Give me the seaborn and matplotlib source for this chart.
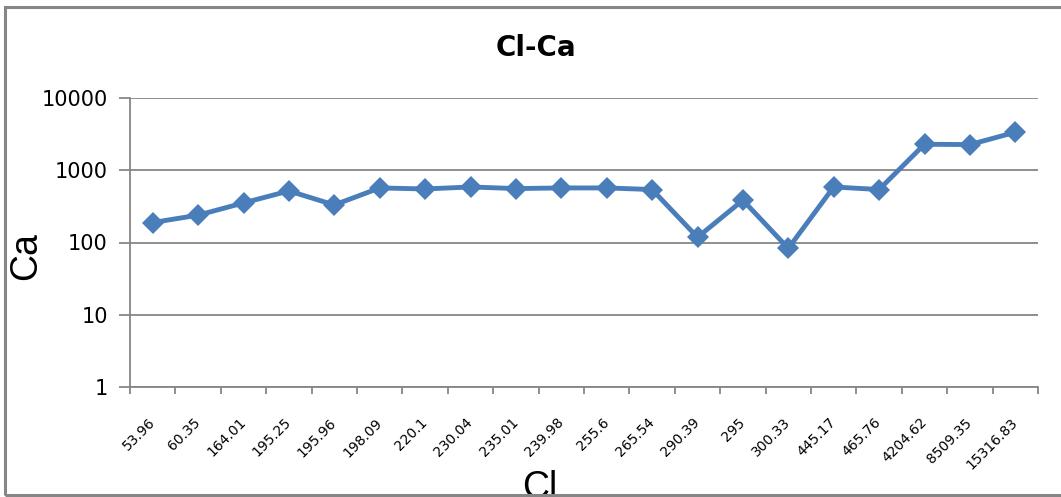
import numpy as np
import pandas as pd
import matplotlib
matplotlib.use("Agg")
import matplotlib.pyplot as plt
from matplotlib.patches import Rectangle
from matplotlib.ticker import FixedLocator, NullFormatter
import seaborn as sns

# Chloride concentration categories (x) and matching calcium values (y)
cl_labels = ["53.96", "60.35", "164.01", "195.25", "195.96", "198.09", "220.1",
             "230.04", "235.01", "239.98", "255.6", "265.54", "290.39", "295",
             "300.33", "445.17", "465.76", "4204.62", "8509.35", "15316.83"]
ca_values = [189, 239, 353, 517, 331, 569, 551, 587, 558, 569,
             569, 541, 118, 385, 83, 587, 541, 2290, 2265, 3355]
y_tick_values = [1, 10, 100, 1000, 10000]
y_tick_labels = ["1", "10", "100", "1000", "10000"]

df = pd.DataFrame({"Cl": cl_labels, "Ca": ca_values})

sns.set_theme(style="white")
plt.rcParams["font.family"] = ["DejaVu Sans"]
plt.rcParams["text.color"] = "black"
plt.rcParams["xtick.color"] = "black"
plt.rcParams["ytick.color"] = "black"

line_color = "#4A7EBB"
axis_color = "#868686"

fig = plt.figure(figsize=(10.61, 4.97), dpi=100)
ax = fig.add_axes([130 / 1061, 1 - 387 / 497, (1038 - 130) / 1061, (387 - 98) / 497])

sns.lineplot(data=df, x="Cl", y="Ca", ax=ax, sort=False, color=line_color,
             linewidth=3.5, marker="D", markersize=11, markeredgewidth=0,
             markerfacecolor=line_color)

ax.set_yscale("log")
ax.set_ylim(y_tick_values[0], y_tick_values[-1])
ax.set_xlim(-0.5, len(cl_labels) - 0.5)

# y axis: decades with horizontal gridlines
ax.yaxis.set_major_locator(FixedLocator(y_tick_values))
ax.yaxis.set_minor_locator(FixedLocator([]))
ax.set_yticklabels(y_tick_labels, fontsize=15, color="black")
ax.grid(axis="y", color=axis_color, linewidth=1.3)
ax.grid(axis="x", visible=False)
ax.tick_params(axis="y", which="major", direction="out", length=8, width=1.3,
               color=axis_color, labelcolor="black", pad=8, left=True)

# x axis: labels at category centers, tick marks on category boundaries
ax.set_xticks(np.arange(len(cl_labels)))
ax.set_xticklabels(cl_labels, rotation=45, ha="right", va="center",
                   rotation_mode="anchor", fontsize=10, color="black")
ax.tick_params(axis="x", which="major", length=0, pad=24, labelcolor="black")
ax.xaxis.set_minor_locator(FixedLocator(np.arange(-0.5, len(cl_labels), 1.0)))
ax.xaxis.set_minor_formatter(NullFormatter())
ax.tick_params(axis="x", which="minor", direction="out", length=5, width=1.3,
               color=axis_color, bottom=True)

for side in ["top", "right"]:
    ax.spines[side].set_visible(False)
for side in ["left", "bottom"]:
    ax.spines[side].set_color(axis_color)
    ax.spines[side].set_linewidth(1.3)

ax.set_xlabel("")
ax.set_ylabel("")

fig.text(536 / 1061, 1 - 48 / 497, "Cl-Ca", ha="center", va="center",
         fontsize=20, fontweight="bold", color="black")
fig.text(26 / 1061, 1 - 256 / 497, "Ca", ha="center", va="center",
         rotation=90, fontsize=27, family="Liberation Sans", color="black")
fig.text(540 / 1061, 1 - 470 / 497, "Cl", ha="center", va="top",
         fontsize=27, family="Liberation Sans", color="black")

# chart frame
fig.patches.append(Rectangle((5 / 1061, 2 / 497), 1.2, (495 - 7) / 497,
                             transform=fig.transFigure, fill=False,
                             edgecolor=axis_color, linewidth=2.2, zorder=10))

fig.savefig("out.png", dpi=100)
